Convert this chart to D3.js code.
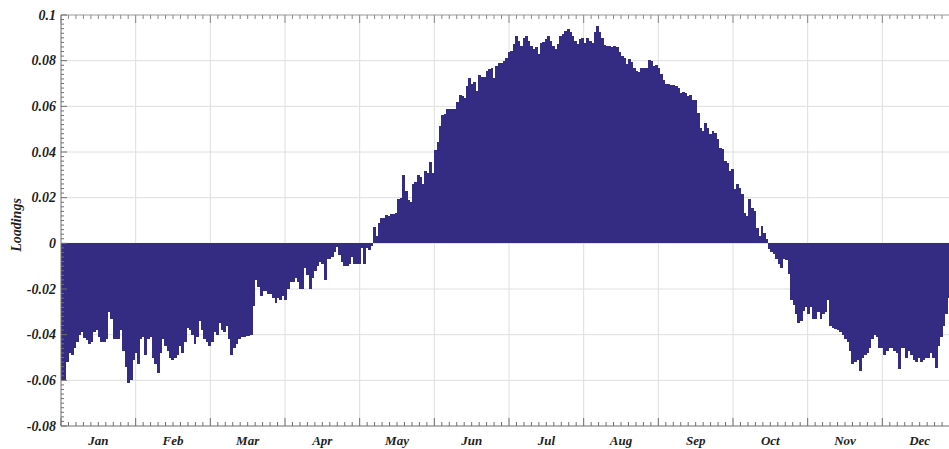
<!DOCTYPE html>
<html>
<head>
<meta charset="utf-8">
<script src="https://cdn.jsdelivr.net/npm/d3@7"></script>
<style>
  body { margin: 0; background: #fff; overflow: hidden; }
  text { font-family: "Liberation Serif", "DejaVu Serif", serif; font-weight: bold; font-style: italic; fill: #1e1e1e; }
</style>
</head>
<body>
<div class="loadings-plot"></div>
<script>
// daily loadings, Jan 1 .. Dec 31
const loadings = [
  -0.060,-0.060,-0.052,-0.048,-0.049,-0.046,-0.043,-0.040,-0.039,-0.0415,
  -0.0425,-0.044,-0.043,-0.039,-0.038,-0.041,-0.043,-0.043,-0.042,-0.030,
  -0.033,-0.042,-0.042,-0.042,-0.038,-0.047,-0.054,-0.061,-0.060,-0.051,
  -0.048,-0.053,-0.042,-0.041,-0.049,-0.042,-0.041,-0.050,-0.053,-0.057,
  -0.048,-0.042,-0.045,-0.047,-0.050,-0.051,-0.050,-0.049,-0.045,-0.048,
  -0.043,-0.037,-0.038,-0.040,-0.044,-0.041,-0.034,-0.038,-0.042,-0.043,
  -0.045,-0.043,-0.039,-0.040,-0.035,-0.038,-0.039,-0.036,-0.042,-0.049,
  -0.046,-0.044,-0.042,-0.041,-0.041,-0.0405,-0.0405,-0.040,-0.0275,-0.016,
  -0.019,-0.023,-0.021,-0.021,-0.022,-0.022,-0.024,-0.026,-0.024,-0.025,
  -0.023,-0.025,-0.020,-0.017,-0.017,-0.015,-0.017,-0.020,-0.020,-0.011,
  -0.014,-0.020,-0.015,-0.012,-0.010,-0.008,-0.009,-0.016,-0.007,-0.007,
  -0.006,-0.004,-0.0015,-0.005,-0.008,-0.010,-0.010,-0.009,-0.006,-0.009,
  -0.009,-0.009,-0.002,-0.009,-0.002,-0.003,-0.001,0.0073,0.003,0.0087,
  0.011,0.011,0.0124,0.012,0.013,0.013,0.0135,0.0196,0.020,0.030,
  0.023,0.019,0.018,0.026,0.027,0.030,0.029,0.026,0.0316,0.031,
  0.0356,0.031,0.0407,0.0444,0.0516,0.056,0.0567,0.059,0.059,0.059,
  0.059,0.0618,0.065,0.0645,0.0635,0.069,0.0723,0.070,0.0708,0.0669,
  0.0737,0.0727,0.073,0.0756,0.0764,0.077,0.0723,0.0778,0.079,0.079,
  0.080,0.081,0.0836,0.0844,0.0873,0.0909,0.0887,0.0865,0.090,0.0906,
  0.0887,0.0865,0.085,0.086,0.083,0.0877,0.088,0.0895,0.091,0.0887,
  0.0865,0.085,0.0873,0.091,0.0916,0.093,0.0938,0.0927,0.091,0.0884,
  0.0873,0.0895,0.090,0.0877,0.090,0.0887,0.0877,0.0924,0.095,0.0924,
  0.090,0.0868,0.0865,0.0865,0.0858,0.0865,0.0858,0.0839,0.0822,0.081,
  0.0785,0.0807,0.0796,0.0767,0.0756,0.0749,0.0767,0.077,0.0767,0.0804,
  0.080,0.0778,0.078,0.0766,0.0740,0.0715,0.0700,0.0696,0.0692,0.0692,
  0.0689,0.0682,0.066,0.0662,0.066,0.0645,0.0650,0.0628,0.0628,0.0572,
  0.0507,0.0492,0.0529,0.0507,0.0477,0.0492,0.0485,0.0458,0.0419,0.0412,
  0.0361,0.0354,0.0317,0.0324,0.0237,0.0258,0.0244,0.0215,0.0134,0.012,
  0.0193,0.0156,0.0142,0.0069,0.0032,0.0076,0.0047,0.0018,-0.0026,-0.004,
  -0.0048,-0.0067,-0.0092,-0.0107,-0.007,-0.0075,-0.0136,-0.025,-0.027,-0.031,
  -0.035,-0.034,-0.0296,-0.028,-0.031,-0.028,-0.033,-0.033,-0.030,-0.033,
  -0.031,-0.030,-0.025,-0.036,-0.037,-0.0377,-0.038,-0.039,-0.040,-0.042,
  -0.043,-0.047,-0.053,-0.052,-0.051,-0.056,-0.050,-0.049,-0.048,-0.046,
  -0.042,-0.040,-0.041,-0.046,-0.046,-0.049,-0.047,-0.046,-0.046,-0.047,
  -0.048,-0.055,-0.046,-0.046,-0.050,-0.047,-0.049,-0.051,-0.052,-0.050,
  -0.052,-0.051,-0.050,-0.050,-0.048,-0.050,-0.0545,-0.045,-0.041,-0.036,
  -0.031,-0.024,-0.028,-0.030,-0.032
];
const months = ["Jan","Feb","Mar","Apr","May","Jun","Jul","Aug","Sep","Oct","Nov","Dec"];
const yTicks = [0.1, 0.08, 0.06, 0.04, 0.02, 0, -0.02, -0.04, -0.06, -0.08];
const yTickLabels = ["0.1","0.08","0.06","0.04","0.02","0","-0.02","-0.04","-0.06","-0.08"];

const width = 949;
const height = 449;
const plotLeft = 61, plotRight = 957, plotTop = 15, plotBottom = 426;

const svg = d3.select('.loadings-plot')
  .append('svg')
  .attr('width', width)
  .attr('height', height)

const x = d3.scaleLinear().domain([0, loadings.length]).range([plotLeft, plotRight]);
const xm = d3.scaleLinear().domain([0, 12]).range([plotLeft, plotRight]);
const y = d3.scaleLinear().domain([-0.08, 0.1]).range([plotBottom, plotTop]);

// grid
svg.append("g").selectAll("line")
  .data(d3.range(1, 12))
  .enter().append("line")
  .attr("x1", d => xm(d)).attr("x2", d => xm(d))
  .attr("y1", plotTop).attr("y2", plotBottom)
  .attr("stroke", "#dedede").attr("stroke-width", 1);

svg.append("g").selectAll("line")
  .data(yTicks.slice(1, -1))
  .enter().append("line")
  .attr("x1", plotLeft).attr("x2", plotRight)
  .attr("y1", d => y(d)).attr("y2", d => y(d))
  .attr("stroke", "#dedede").attr("stroke-width", 1);

// bars
svg.append("g").selectAll("rect")
  .data(loadings)
  .enter().append("rect")
  .attr("x", (d, i) => x(i))
  .attr("width", (d, i) => x(i + 1) - x(i) + 0.4)
  .attr("y", d => y(Math.max(0, d)))
  .attr("height", d => Math.abs(y(d) - y(0)))
  .attr("fill", "#342c82")
  .attr("shape-rendering", "crispEdges");

// frame
const axisColor = "#6f6f6f";
svg.append("line").attr("x1", plotLeft).attr("x2", plotRight).attr("y1", plotTop).attr("y2", plotTop).attr("stroke", "#999");
svg.append("line").attr("x1", plotLeft).attr("x2", plotRight).attr("y1", plotBottom).attr("y2", plotBottom).attr("stroke", axisColor);
svg.append("line").attr("x1", plotLeft).attr("x2", plotLeft).attr("y1", plotTop).attr("y2", plotBottom).attr("stroke", axisColor);

// x ticks (top and bottom, pointing inward)
const xMinor = d3.range(0, 120).map(d => d / 10);
svg.append("g").selectAll("line")
  .data(xMinor)
  .enter().append("line")
  .attr("x1", d => xm(d)).attr("x2", d => xm(d))
  .attr("y1", plotBottom).attr("y2", d => plotBottom - (d % 1 === 0 ? 8 : 4))
  .attr("stroke", axisColor);
svg.append("g").selectAll("line")
  .data(xMinor)
  .enter().append("line")
  .attr("x1", d => xm(d)).attr("x2", d => xm(d))
  .attr("y1", plotTop).attr("y2", d => plotTop + (d % 1 === 0 ? 8 : 4))
  .attr("stroke", "#888");

// y ticks
const yMinor = d3.range(-80, 101, 2).map(d => d / 1000);
svg.append("g").selectAll("line")
  .data(yMinor)
  .enter().append("line")
  .attr("x1", plotLeft).attr("x2", d => plotLeft + (Math.round(d * 1000) % 20 === 0 ? 6 : 3))
  .attr("y1", d => y(d)).attr("y2", d => y(d))
  .attr("stroke", axisColor);

// labels
svg.append("g").selectAll("text")
  .data(yTicks)
  .enter().append("text")
  .attr("x", 56)
  .attr("y", d => y(d) + 4.5)
  .attr("text-anchor", "end")
  .attr("font-size", 14)
  .text((d, i) => yTickLabels[i]);

svg.append("g").selectAll("text")
  .data(months)
  .enter().append("text")
  .attr("x", (d, i) => xm(i + 0.5))
  .attr("y", 445)
  .attr("text-anchor", "middle")
  .attr("font-size", 13)
  .text(d => d);

svg.append("text")
  .attr("transform", "translate(21," + 225 + ") rotate(-90)")
  .attr("text-anchor", "middle")
  .attr("font-size", 14)
  .text("Loadings");
</script>
</body>
</html>
